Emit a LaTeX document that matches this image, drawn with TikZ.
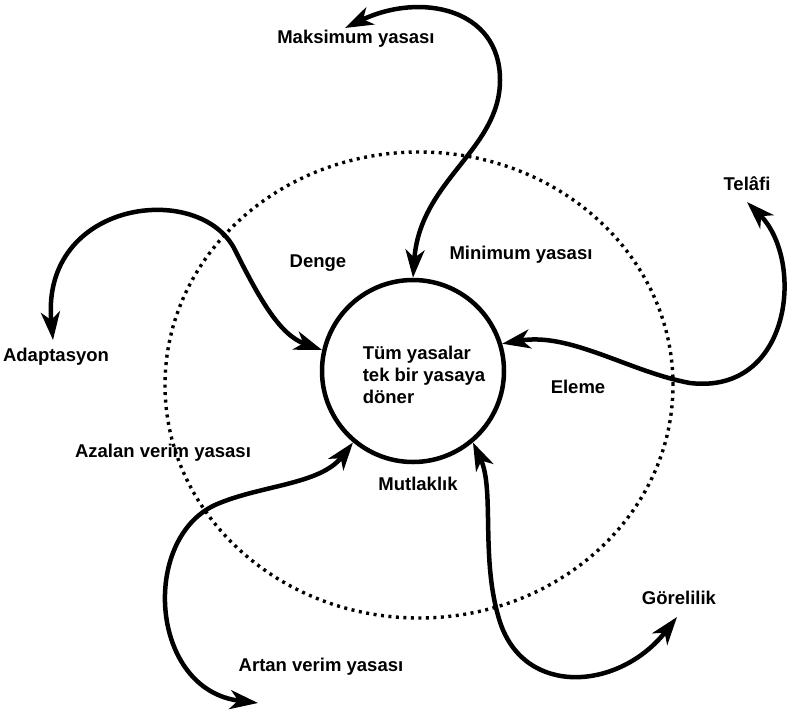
\documentclass[tikz,border=0pt]{standalone}
\usepackage{fontspec}
\setmainfont{Liberation Sans}
\usetikzlibrary{arrows.meta}
\begin{document}
\begin{tikzpicture}[x=1pt,y=-1pt,
  lbl/.style={font=\bfseries\fontsize{18.5}{22}\selectfont, inner sep=0pt},
  link/.style={line width=4.5pt, arrows={Stealth[length=28pt,width=19pt,inset=8pt]-Stealth[length=28pt,width=19pt,inset=8pt]}},
  ring/.style={line width=3.4pt, dash pattern=on 3pt off 4.5pt},
  hub/.style={circle, draw, line width=4.5pt, minimum size=182pt, inner sep=0pt}]
  \useasboundingbox (0,0) rectangle (790,710);

  % outer dotted ring and central circle
  \draw[ring] (419,385) ellipse [x radius=254pt, y radius=233pt];
  \node[hub] (core) at (413,371) {};
  \node[lbl, align=left] (all) at (424,375) {Tüm yasalar\\tek bir yasaya\\döner};

  % labels
  \node[lbl] (max) at (356,39) {Maksimum yasası};
  \node[lbl] (tel) at (747,184) {Telâfi};
  \node[lbl] (ada) at (56,357) {Adaptasyon};
  \node[lbl] (gor) at (679,598) {Görelilik};
  \node[lbl] (art) at (321,667) {Artan verim yasası};
  \node[lbl] (den) at (318,263) {Denge};
  \node[lbl] (min) at (521,255) {Minimum yasası};
  \node[lbl] (ele) at (578,387) {Eleme};
  \node[lbl] (aza) at (163,453) {Azalan verim yasası};
  \node[lbl] (mut) at (418,484) {Mutlaklık};

  % free ends of the connectors
  \coordinate (maxend) at (345,28);
  \coordinate (telend) at (747,202);
  \coordinate (gorend) at (677,617);
  \coordinate (artend) at (258,703);
  \coordinate (adaend) at (53,340);

  % bends of the connectors
  \coordinate (maxbend) at (500,80);
  \coordinate (telbend) at (690,383);
  \coordinate (gorbend) at (500,622);
  \coordinate (artbend) at (215,505);
  \coordinate (adabend) at (235,250);

  % S-shaped connectors
  \draw[link] (core.90) .. controls (420,180) and (500,150) .. (maxbend)
                        .. controls (500,8) and (420,-8) .. (maxend);
  \draw[link] (core.17) .. controls (570,332) and (630,372) .. (telbend)
                        .. controls (792,395) and (805,260) .. (telend);
  \draw[link] (core.-50) .. controls (495,490) and (480,560) .. (gorbend)
                         .. controls (525,698) and (620,690) .. (gorend);
  \draw[link] (core.230) .. controls (320,485) and (260,485) .. (artbend)
                         .. controls (140,540) and (150,690) .. (artend);
  \draw[link] (core.167) .. controls (280,335) and (260,300) .. (adabend)
                         .. controls (200,180) and (40,200) .. (adaend);
\end{tikzpicture}
\end{document}
